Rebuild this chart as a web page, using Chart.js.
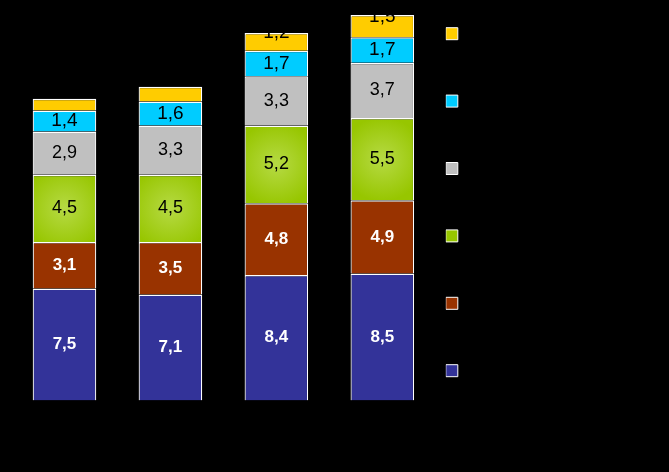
<!DOCTYPE html>
<html>
<head>
<meta charset="utf-8">
<script src="https://cdn.jsdelivr.net/npm/chart.js@4.4.1/dist/chart.umd.min.js"></script>
<style>
  html, body { margin: 0; padding: 0; background: #000; }
  #chart { display: block; }
</style>
</head>
<body>
<canvas id="chart" width="669" height="472"></canvas>
<script>
// data (bottom segment first)
const categories = ["1", "2", "3", "4"];
const seriesNames = ["Série 1", "Série 2", "Série 3", "Série 4", "Série 5", "Série 6"];
const blueValues = [7.5, 7.1, 8.4, 8.5];
const brownValues = [3.1, 3.5, 4.8, 4.9];
const greenValues = [4.5, 4.5, 5.2, 5.5];
const grayValues = [2.9, 3.3, 3.3, 3.7];
const cyanValues = [1.4, 1.6, 1.7, 1.7];
const yellowValues = [0.8, 1.0, 1.2, 1.5];

const MIN_LABEL = 1.1;
const GREEN = "#99c800";

// radial highlight in the middle of each green block
function greenFill(context) {
  const chart = context.chart;
  const xs = chart.scales.x;
  const ys = chart.scales.y;
  if (context.type !== "data" || !xs || !ys || !chart.chartArea) return GREEN;

  const i = context.dataIndex;
  const below = blueValues[i] + brownValues[i];
  const top = ys.getPixelForValue(below + greenValues[i]);
  const bottom = ys.getPixelForValue(below);
  const cx = xs.getPixelForValue(i);
  const cy = (top + bottom) / 2;

  const g = chart.ctx.createRadialGradient(cx, cy, 0, cx, cy, 42);
  g.addColorStop(0, "#b6da44");
  g.addColorStop(1, "#97c600");
  return g;
}

const whiteFont = "bold 17px 'Liberation Sans', Arial, sans-serif";
const blackFont = "18px 'Liberation Sans', Arial, sans-serif";
const labelStyle = [
  { color: "#ffffff", font: whiteFont, shift: 0 },
  { color: "#ffffff", font: whiteFont, shift: 0 },
  { color: "#000000", font: blackFont, shift: 0 },
  { color: "#000000", font: blackFont, shift: 0 },
  { color: "#000000", font: "19px 'Liberation Sans', Arial, sans-serif", shift: 0 },
  { color: "#000000", font: "19px 'Liberation Sans', Arial, sans-serif", shift: -9 },
];

// values written inside each block, clipped to the block
const valueLabels = {
  id: "valueLabels",
  afterDatasetsDraw(chart) {
    const ctx = chart.ctx;

    chart.data.datasets.forEach((ds, di) => {
      const meta = chart.getDatasetMeta(di);
      const style = labelStyle[di];

      meta.data.forEach((bar, i) => {
        const v = ds.data[i];
        if (v < MIN_LABEL) return;

        const { x, y, base, width } = bar.getProps(["x", "y", "base", "width"], true);
        const top = Math.min(y, base);
        const h = Math.abs(base - y);

        ctx.save();
        ctx.beginPath();
        ctx.rect(x - width / 2, top, width, h);
        ctx.clip();
        ctx.font = style.font;
        ctx.fillStyle = style.color;
        ctx.textAlign = "center";
        ctx.textBaseline = "middle";
        ctx.fillText(v.toFixed(1).replace(".", ","), x, top + h / 2 + style.shift);
        ctx.restore();
      });
    });
  },
};

const colors = ["#333399", "#993300", greenFill, "#c0c0c0", "#00ccff", "#ffcc00"];
const values = [blueValues, brownValues, greenValues, grayValues, cyanValues, yellowValues];

const datasets = values.map((data, i) => ({
  label: seriesNames[i],
  data: data,
  backgroundColor: colors[i],
  borderColor: "#ffffff",
  borderWidth: { top: 1.5, bottom: 0, left: 1.2, right: 1.2 },
  borderSkipped: false,
  inflateAmount: 0,
  categoryPercentage: 1,
  barPercentage: 0.6,
}));

new Chart(document.getElementById("chart"), {
  type: "bar",
  plugins: [valueLabels],
  data: {
    labels: categories,
    datasets: datasets,
  },
  options: {
    responsive: false,
    animation: false,
    events: [],
    layout: {
      padding: { left: 11.5, right: 167.5, top: 0, bottom: 0 },
    },
    plugins: {
      tooltip: { enabled: false },
      legend: {
        position: "right",
        align: "start",
        reverse: true,
        labels: {
          boxWidth: 12,
          boxHeight: 12,
          padding: 0,
          color: "#000000",
          font: { size: 67.4 },
          generateLabels(chart) {
            return Chart.defaults.plugins.legend.labels
              .generateLabels(chart)
              .map((item) => ({ ...item, text: "", lineWidth: 1, strokeStyle: "#ffffff" }));
          },
        },
      },
    },
    scales: {
      x: {
        stacked: true,
        grid: { display: false },
        border: { display: false },
        ticks: {
          color: "#000000",
          font: { size: 12 },
        },
        afterFit(scale) {
          scale.height = 71.5;
        },
      },
      y: {
        stacked: true,
        position: "right",
        min: 0,
        max: 26.8,
        grid: { display: false },
        border: { display: false },
        ticks: { display: false },
        afterFit(scale) {
          scale.width = 10.5;
        },
      },
    },
  },
});
</script>
</body>
</html>
